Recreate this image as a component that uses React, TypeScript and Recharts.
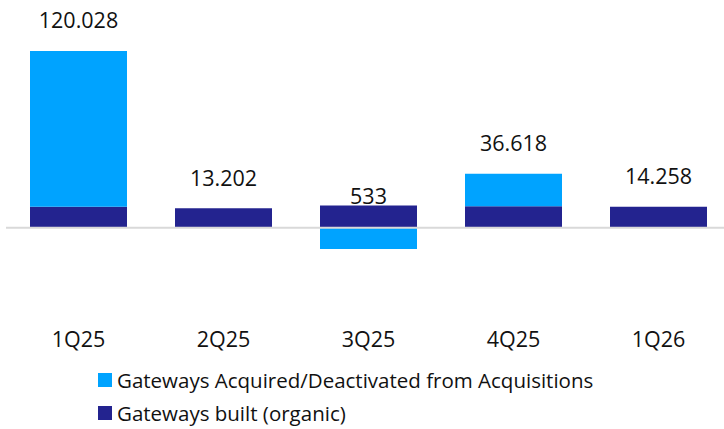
import React from "react";
import {
  ComposedChart,
  Bar,
  Line,
  XAxis,
  YAxis,
  ReferenceLine,
  LabelList,
  Legend,
} from "recharts";

const quarters = ["1Q25", "2Q25", "3Q25", "4Q25", "1Q26"];
const organic = [14300, 13202, 15033, 14550, 14258];
const acquired = [105728, 0, -14500, 22068, 0];
const totals = [120028, 13202, 533, 36618, 14258];
const totalLabels = ["120.028", "13.202", "533", "36.618", "14.258"];

const LIGHT = "#00A3FF";
const NAVY = "#23238F";
const FONT = "'Open Sans', sans-serif";

const data = quarters.map((q, i) => ({
  quarter: q,
  organic: organic[i],
  acquired: acquired[i],
  total: totals[i],
}));

const legendItems = [
  { label: "Gateways Acquired/Deactivated from Acquisitions", color: LIGHT },
  { label: "Gateways built (organic)", color: NAVY },
];

const renderLegend = () => (
  <div style={{ fontFamily: FONT, fontSize: 20.5, color: "#111" }}>
    {legendItems.map((item) => (
      <div
        key={item.label}
        style={{ display: "flex", alignItems: "center", height: 33 }}
      >
        <span
          style={{
            display: "inline-block",
            width: 14,
            height: 14,
            background: item.color,
            marginRight: 5,
          }}
        />
        <span>{item.label}</span>
      </div>
    ))}
  </div>
);

const renderTotal = (props: any) => {
  const { x, y, index } = props;
  return (
    <text
      x={x}
      y={y - 31}
      textAnchor="middle"
      dominantBaseline="central"
      fontFamily={FONT}
      fontSize={21.5}
      fill="#111"
    >
      {totalLabels[index]}
    </text>
  );
};

export default function App() {
  return (
    <div
      style={{
        position: "absolute",
        left: 0,
        top: 0,
        width: 724,
        height: 429,
        overflow: "hidden",
        background: "#fff",
      }}
    >
      <ComposedChart
        width={731}
        height={429}
        data={data}
        stackOffset="sign"
        margin={{ top: 21.5, right: 0, bottom: 0, left: 6 }}
      >
        <XAxis
          dataKey="quarter"
          tickLine={false}
          axisLine={false}
          tickMargin={4}
          height={41}
          tick={{ fontSize: 21.5, fontFamily: FONT, fill: "#111" }}
        />
        <YAxis hide domain={[-64000, 140000]} />
        <Bar
          dataKey="organic"
          stackId="a"
          fill={NAVY}
          barSize={97}
          isAnimationActive={false}
        />
        <Bar
          dataKey="acquired"
          stackId="a"
          fill={LIGHT}
          barSize={97}
          isAnimationActive={false}
        />
        <ReferenceLine y={0} stroke="#d9d9d9" strokeWidth={2} />
        <Line
          dataKey="total"
          stroke="none"
          dot={false}
          activeDot={false}
          legendType="none"
          isAnimationActive={false}
        >
          <LabelList dataKey="total" content={renderTotal} />
        </Line>
        <Legend
          content={renderLegend}
          wrapperStyle={{ left: 98, top: 363.5, width: 620 }}
        />
      </ComposedChart>
    </div>
  );
}
